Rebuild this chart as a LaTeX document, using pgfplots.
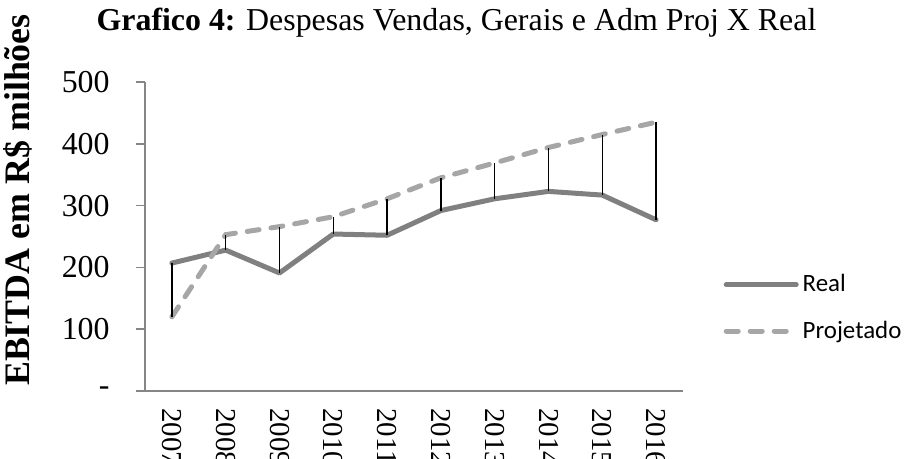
\documentclass[border=0pt]{standalone}
\usepackage{fontspec}
\setmainfont{Liberation Serif}
\newfontfamily\carlito{Carlito}
\usepackage{pgfplots}
\pgfplotsset{compat=1.18}
\definecolor{realc}{HTML}{808080}
\definecolor{projc}{HTML}{A6A6A6}
\definecolor{axc}{HTML}{868686}
\begin{document}
\begin{tikzpicture}
\begin{axis}[
  scale only axis,
  width=269bp, height=154.5bp,
  xmin=-0.5, xmax=9.5, ymin=0, ymax=500,
  axis x line=bottom, axis y line=left,
  axis line style={axc, line width=0.75bp, -},
  x axis line style={shorten <=-4.5bp},
  xtick={0,...,9},
  xticklabels={2007,2008,2009,2010,2011,2012,2013,2014,2015,2016},
  ytick={0,100,200,300,400,500},
  yticklabels={-,100,200,300,400,500},
  x tick style={draw=none},
  y tick style={axc, line width=0.75bp},
  tick align=outside,
  major tick length=4.5bp,
  yticklabel style={font=\fontsize{16}{19}\selectfont, anchor=east, inner sep=0pt, xshift=-13bp},
  xticklabel style={font=\fontsize{14.5}{17}\selectfont, rotate=-90, anchor=west, inner sep=0pt, xshift=4bp},
  title={\textbf{Grafico 4:} Despesas Vendas, Gerais e Adm Proj X Real},
  title style={font=\fontsize{16}{19}\selectfont, at={(rel axis cs:0.579,0)}, anchor=base, yshift=174.5bp},
  ylabel={EBITDA em R\$ milhões},
  every axis y label/.style={at={(rel axis cs:0,0.618)}, anchor=center, rotate=90, yshift=63.5bp, font=\bfseries\fontsize{18}{21}\selectfont},
  legend style={draw=none, fill=none, at={(rel axis cs:1.075,0.269)}, anchor=west, inner sep=0pt, row sep=9bp,
    font=\carlito\fontsize{12.5}{15}\selectfont, cells={anchor=west}},
  legend image code/.code={\draw[#1] (0bp,0bp) -- (35bp,0bp);},
  clip=false,
  unbounded coords=jump,
]
\coordinate (o) at (rel axis cs:0,0);
\addplot[realc, line width=2.5bp, line join=round, line cap=round] coordinates {
(0,207) (1,228) (2,191) (3,254) (4,252) (5,292) (6,311) (7,323) (8,317) (9,277)};
\addlegendentry{Real}
\addplot[projc, line width=2.5bp, line cap=round, dash pattern=on 6bp off 6bp] coordinates {
(0,120) (1,253) (2,266) (3,282) (4,311) (5,345) (6,369) (7,394) (8,415) (9,435)};
\addlegendentry{Projetado}
\addplot[black, line width=0.75bp, forget plot] table {
x y
0 207
0 120
0 nan
1 228
1 253
1 nan
2 191
2 266
2 nan
3 254
3 282
3 nan
4 252
4 311
4 nan
5 292
5 345
5 nan
6 311
6 369
6 nan
7 323
7 394
7 nan
8 317
8 415
8 nan
9 277
9 435
};
\end{axis}
\pgfresetboundingbox
\useasboundingbox ([shift={(-72.5bp,-34bp)}]o) rectangle ([shift={(383bp,195.5bp)}]o);
\end{tikzpicture}
\end{document}
